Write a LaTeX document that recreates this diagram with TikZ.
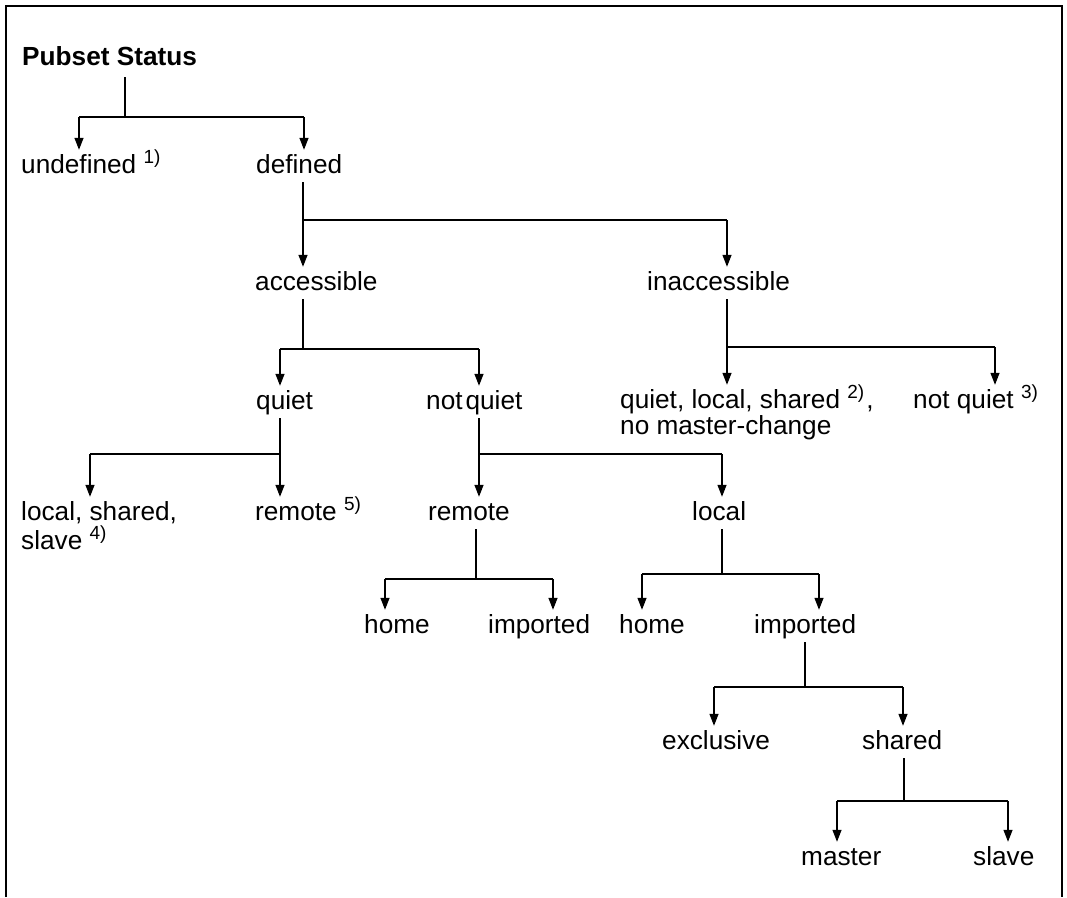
\documentclass[tikz,border=0pt]{standalone}
\usepackage{fontspec}
\setmainfont{Liberation Sans}
\usetikzlibrary{arrows.meta}
\newcommand\fnote[1]{\raisebox{10pt}{\fontsize{19}{19}\selectfont #1}}
\begin{document}
\begin{tikzpicture}[x=1pt,y=-1pt,
  lbl/.style={inner sep=0pt, anchor=base west, font=\fontsize{26.2}{30}\selectfont, text height=18pt, text depth=5pt},
  ln/.style={line width=1.3pt, shorten <=4pt},
  bus/.style={line width=1.3pt},
  arr/.style={line width=1.3pt, -{Triangle[length=12pt,width=9pt]}, shorten >=5pt},
  frame/.style={line width=2pt}]
\useasboundingbox (0,0) rectangle (1067,897);
\draw[frame] (6,897) -- (6,6) -- (1062,6) -- (1062,897);

% nodes
\node[lbl, font=\fontsize{26.2}{30}\selectfont\bfseries] (pubset) at (22,65) {Pubset Status};
\node[lbl] (undef) at (21,173) {undefined \fnote{1)}};
\node[lbl] (defd) at (256,173) {defined};
\node[lbl] (acc) at (255,290) {accessible};
\node[lbl] (inacc) at (647,290) {inaccessible};
\node[lbl] (quiet) at (256,409) {quiet};
\node[lbl] (nquiet) at (426,409) {not\hspace{3pt}quiet};
\node[lbl] (qls) at (620,408) {quiet, local, shared \fnote{2)}\hspace{2pt},};
\node[lbl] (qls2) at (620,434) {no master-change};
\node[lbl] (nqt) at (913,408) {not quiet \fnote{3)}};
\node[lbl] (lss) at (21,520) {local, shared,};
\node[lbl] (lss2) at (21,549) {slave \fnote{4)}};
\node[lbl] (remq) at (255,520) {remote \fnote{5)}};
\node[lbl] (rem) at (428,520) {remote};
\node[lbl] (loc) at (692,520) {local};
\node[lbl] (homea) at (364,633) {home};
\node[lbl] (impa) at (488,633) {imported};
\node[lbl] (homeb) at (619,633) {home};
\node[lbl] (impb) at (754,633) {imported};
\node[lbl] (excl) at (662,749) {exclusive};
\node[lbl] (shrd) at (862,749) {shared};
\node[lbl] (mstr) at (801,865) {master};
\node[lbl] (slv) at (973,865) {slave};

% junctions
\coordinate (j0) at (125,117); \coordinate (j0a) at (79,117);  \coordinate (j0b) at (304,117);
\coordinate (j1) at (303,220); \coordinate (j1b) at (727,220);
\coordinate (j2) at (303,349); \coordinate (j2a) at (280,349); \coordinate (j2b) at (479,349);
\coordinate (j3) at (727,347); \coordinate (j3b) at (995,347);
\coordinate (j4) at (280,454); \coordinate (j4a) at (90,454);
\coordinate (j5) at (479,454); \coordinate (j5b) at (722,454);
\coordinate (j6) at (476,579); \coordinate (j6a) at (385,579); \coordinate (j6b) at (553,579);
\coordinate (j7) at (722,574); \coordinate (j7a) at (642,574); \coordinate (j7b) at (819,574);
\coordinate (j8) at (805,687); \coordinate (j8a) at (714,687); \coordinate (j8b) at (903,687);
\coordinate (j9) at (904,801); \coordinate (j9a) at (837,801); \coordinate (j9b) at (1008,801);

% Pubset Status
\draw[ln, shorten <=7pt] (pubset.south -| j0) -- (j0);
\draw[bus] (j0a) -- (j0b);
\draw[arr] (j0a) -- (j0a |- undef.north);
\draw[arr] (j0b) -- (j0b |- defd.north);
% defined
\draw[ln] (defd.south -| j1) -- (j1);
\draw[bus] (j1) -- (j1b);
\draw[arr] (j1) -- (j1 |- acc.north);
\draw[arr] (j1b) -- (j1b |- inacc.north);
% accessible
\draw[ln] (acc.south -| j2) -- (j2);
\draw[bus] (j2a) -- (j2b);
\draw[arr] (j2a) -- (j2a |- quiet.north);
\draw[arr] (j2b) -- (j2b |- nquiet.north);
% inaccessible
\draw[ln] (inacc.south -| j3) -- (j3);
\draw[bus] (j3) -- (j3b);
\draw[arr] (j3) -- (j3 |- qls.north);
\draw[arr] (j3b) -- (j3b |- nqt.north);
% quiet
\draw[ln] (quiet.south -| j4) -- (j4);
\draw[bus] (j4a) -- (j4);
\draw[arr] (j4a) -- (j4a |- lss.north);
\draw[arr] (j4) -- (j4 |- remq.north);
% not quiet
\draw[ln] (nquiet.south -| j5) -- (j5);
\draw[bus] (j5) -- (j5b);
\draw[arr] (j5) -- (j5 |- rem.north);
\draw[arr] (j5b) -- (j5b |- loc.north);
% remote
\draw[ln] (rem.south -| j6) -- (j6);
\draw[bus] (j6a) -- (j6b);
\draw[arr] (j6a) -- (j6a |- homea.north);
\draw[arr] (j6b) -- (j6b |- impa.north);
% local
\draw[ln] (loc.south -| j7) -- (j7);
\draw[bus] (j7a) -- (j7b);
\draw[arr] (j7a) -- (j7a |- homeb.north);
\draw[arr] (j7b) -- (j7b |- impb.north);
% imported
\draw[ln] (impb.south -| j8) -- (j8);
\draw[bus] (j8a) -- (j8b);
\draw[arr] (j8a) -- (j8a |- excl.north);
\draw[arr] (j8b) -- (j8b |- shrd.north);
% shared
\draw[ln] (shrd.south -| j9) -- (j9);
\draw[bus] (j9a) -- (j9b);
\draw[arr] (j9a) -- (j9a |- mstr.north);
\draw[arr] (j9b) -- (j9b |- slv.north);
\end{tikzpicture}
\end{document}
